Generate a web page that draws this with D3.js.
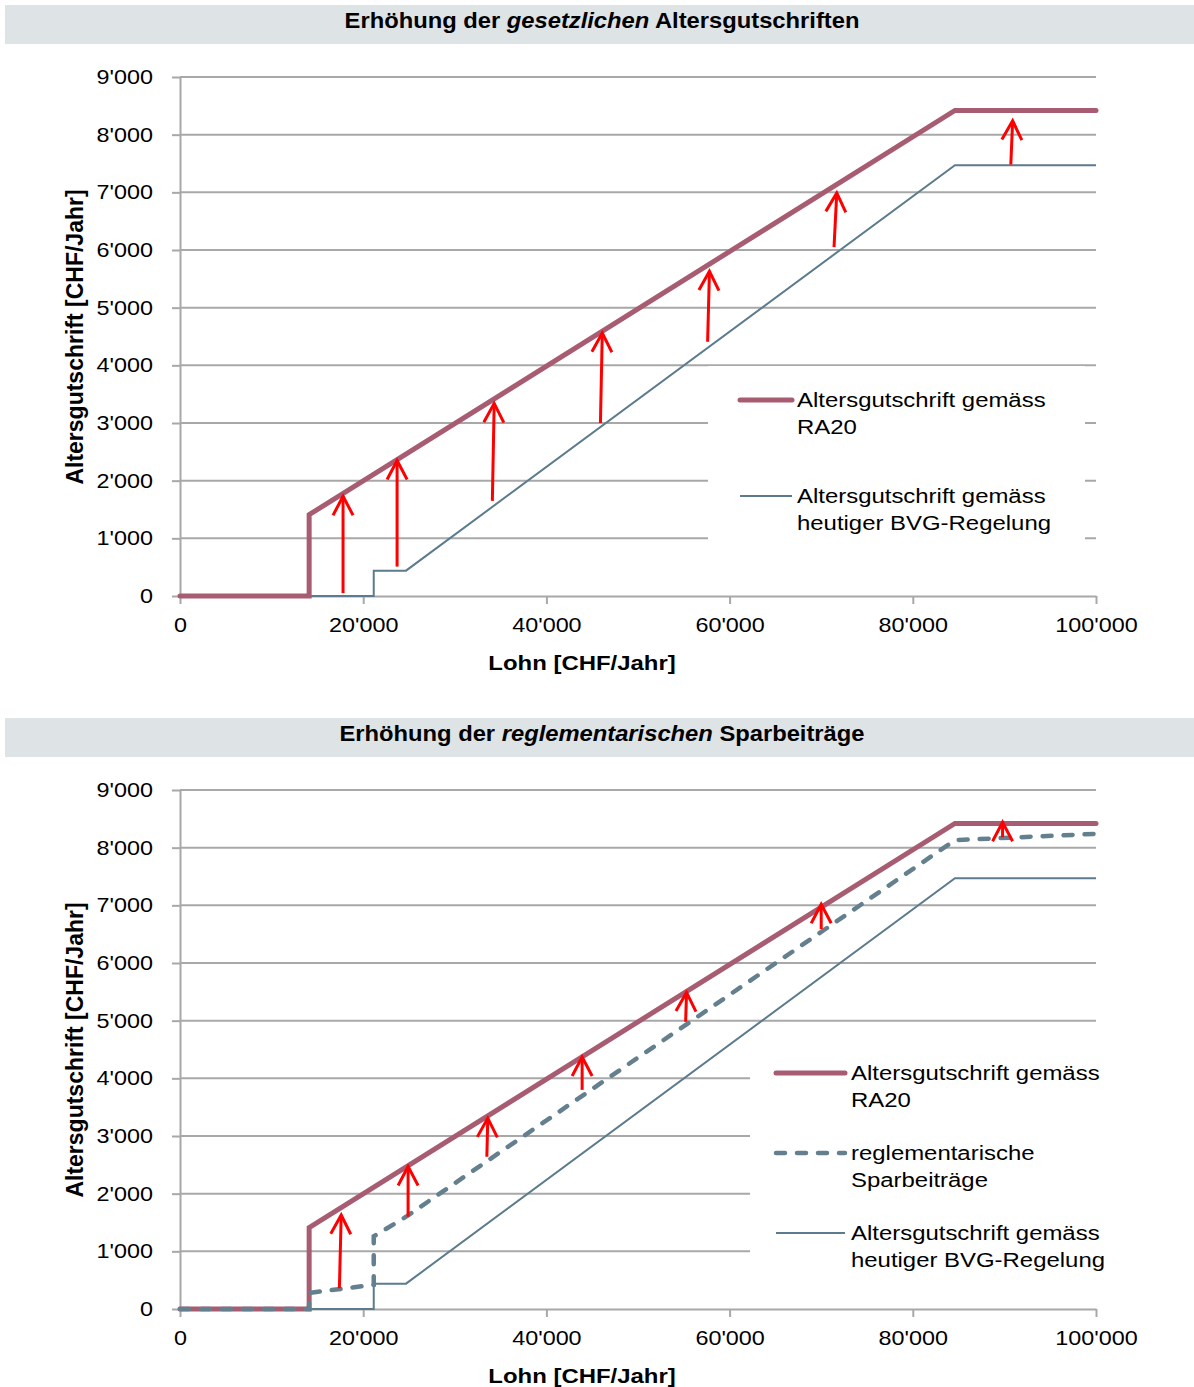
<!DOCTYPE html>
<html>
<head>
<meta charset="utf-8">
<script src="https://cdn.jsdelivr.net/npm/d3@7"></script>
<style>
  body { margin: 0; background: #fff; }
  svg { display: block; }
  text { font-family: "Liberation Sans", Arial, sans-serif; fill: #000; }
</style>
</head>
<body>
<div id="chart"></div>
<script>
// ---- data ----
const xTicks = [0, 20000, 40000, 60000, 80000, 100000];
const yTicks = [0, 1000, 2000, 3000, 4000, 5000, 6000, 7000, 8000, 9000];

// [Lohn, Altersgutschrift]
const ra20 = [[0, 0], [14100, 0], [14100, 1410], [84600, 8420], [100000, 8420]];
const bvgHeute = [[0, 0], [21150, 0], [21150, 440], [24675, 440], [84600, 7470], [100000, 7470]];
const reglementarisch = [[0, 0], [14100, 0], [14100, 280], [21150, 420], [21150, 1260], [24675, 1600], [84600, 8130], [100000, 8240]];

// [Lohn from, value from, Lohn to, value to]
const arrowsGesetzlich = [
  [17800, 50, 17800, 1730],
  [23700, 510, 23700, 2350],
  [34100, 1650, 34300, 3340],
  [45900, 3000, 46100, 4560],
  [57600, 4410, 57800, 5630],
  [71400, 6050, 71700, 6990],
  [90700, 7480, 90900, 8240]
];
const arrowsReglementarisch = [
  [17400, 360, 17600, 1630],
  [24900, 1600, 24900, 2470],
  [33500, 2640, 33600, 3310],
  [43900, 3800, 43900, 4370],
  [55200, 4980, 55300, 5490],
  [70000, 6590, 70000, 7020],
  [89800, 8180, 89800, 8440]
];

const titleGesetzlich = ["Erhöhung der ", "gesetzlichen", " Altersgutschriften"];
const titleReglementarisch = ["Erhöhung der ", "reglementarischen", " Sparbeiträge"];
const labelRA20 = ["Altersgutschrift gemäss", "RA20"];
const labelRegl = ["reglementarische", "Sparbeiträge"];
const labelBVG = ["Altersgutschrift gemäss", "heutiger BVG-Regelung"];
const xTitle = "Lohn [CHF/Jahr]";
const yTitle = "Altersgutschrift [CHF/Jahr]";

// ---- setup ----
const W = 1194, H = 1387;
const SX = 1.14; // text in the reference is slightly stretched horizontally
const colRA20 = "#a85c72";
const colBVG = "#5c7c8d";
const gridCol = "#a8a8a8";

const fmt = d3.formatLocale({decimal: ".", thousands: "'", grouping: [3], currency: ["", ""]}).format(",");

const svg = d3.select("#chart").append("svg")
  .attr("width", W).attr("height", H)
  .attr("viewBox", `0 0 ${W} ${H}`);

const x = d3.scaleLinear().domain([0, 100000]).range([180, 1096]);
const y = d3.scaleLinear().domain([0, 9000]).range([596, 77]);
const line = d3.line().x(d => x(d[0])).y(d => y(d[1]));

const styles = {
  ra20: {stroke: colRA20, width: 5, dash: null, cap: "round"},
  regl: {stroke: "#64808f", width: 4.5, dash: "9 12", cap: "round"},
  bvg: {stroke: colBVG, width: 2, dash: null, cap: "butt"}
};

function drawPanel(offset, title, series, arrows, legend) {
  const g = svg.append("g").attr("transform", `translate(0,${offset})`);

  // title bar
  g.append("rect").attr("x", 5).attr("y", 5).attr("width", 1189).attr("height", 39)
    .attr("fill", "#dee3e6");
  const t = g.append("text")
    .attr("transform", `translate(602,28) scale(1.08,1)`)
    .attr("text-anchor", "middle")
    .attr("font-size", 22).attr("font-weight", "bold");
  title.forEach((s, i) => t.append("tspan").text(s).attr("font-style", i === 1 ? "italic" : null));

  // gridlines
  g.append("g").selectAll("line")
    .data(yTicks.filter(v => v > 0))
    .join("line")
      .attr("x1", x(0)).attr("x2", x(100000))
      .attr("y1", d => y(d)).attr("y2", d => y(d))
      .attr("stroke", gridCol).attr("stroke-width", 2);

  // axes
  const ya = g.append("g").attr("transform", `translate(${x(0)},0)`)
    .call(d3.axisLeft(y).tickValues(yTicks).tickSize(8).tickSizeOuter(0).tickPadding(19).tickFormat(fmt));
  const xa = g.append("g").attr("transform", `translate(0,${y(0)})`)
    .call(d3.axisBottom(x).tickValues(xTicks).tickSize(8).tickSizeOuter(0).tickPadding(13).tickFormat(fmt));
  [ya, xa].forEach(a => {
    a.select(".domain").attr("stroke", gridCol).attr("stroke-width", 2);
    a.selectAll(".tick line").attr("stroke", gridCol).attr("stroke-width", 2);
    a.selectAll(".tick text").attr("font-size", 20.5).attr("font-family", null).attr("fill", "#000");
  });
  ya.selectAll(".tick text").attr("x", -27 / SX).attr("transform", `scale(${SX},1)`);
  xa.selectAll(".tick text").attr("transform", `scale(${SX},1)`);

  // axis titles
  g.append("text")
    .attr("transform", `translate(582,670) scale(${SX},1)`)
    .attr("text-anchor", "middle").attr("font-size", 21).attr("font-weight", "bold")
    .text(xTitle);
  g.append("text")
    .attr("transform", `translate(83,337) rotate(-90)`)
    .attr("text-anchor", "middle").attr("font-size", 23).attr("font-weight", "bold")
    .text(yTitle);

  // legend background
  g.append("rect")
    .attr("x", legend.box[0]).attr("y", legend.box[1])
    .attr("width", legend.box[2]).attr("height", legend.box[3])
    .attr("fill", "#fff");

  // series
  g.append("g").attr("fill", "none").selectAll("path")
    .data(series)
    .join("path")
      .attr("d", d => line(d.values))
      .attr("stroke", d => styles[d.style].stroke)
      .attr("stroke-width", d => styles[d.style].width)
      .attr("stroke-dasharray", d => styles[d.style].dash)
      .attr("stroke-linecap", d => styles[d.style].cap)
      .attr("stroke-linejoin", "miter");

  // arrows
  const ag = g.append("g").attr("fill", "none").attr("stroke", "#ff0000").attr("stroke-width", 3);
  arrows.forEach(a => {
    const x0 = x(a[0]), y0 = y(a[1]), x1 = x(a[2]), y1 = y(a[3]);
    const len = Math.hypot(x1 - x0, y1 - y0);
    const ux = (x1 - x0) / len, uy = (y1 - y0) / len;
    const nx = -uy, ny = ux;
    ag.append("line").attr("x1", x0).attr("y1", y0).attr("x2", x1).attr("y2", y1);
    ag.append("path").attr("d",
      `M${x1 - 19 * ux + 10 * nx},${y1 - 19 * uy + 10 * ny}L${x1},${y1}L${x1 - 19 * ux - 10 * nx},${y1 - 19 * uy - 10 * ny}`);
  });

  // legend
  const lg = g.append("g");
  legend.rows.forEach((r, i) => {
    const st = styles[r.style];
    const ry = legend.rowY[i];
    lg.append("line")
      .attr("x1", legend.lineX[0]).attr("x2", legend.lineX[1])
      .attr("y1", ry).attr("y2", ry)
      .attr("stroke", st.stroke).attr("stroke-width", st.width)
      .attr("stroke-dasharray", st.dash).attr("stroke-linecap", st.cap);
    r.label.forEach((s, j) => {
      lg.append("text")
        .attr("transform", `translate(${legend.textX},${ry + 7 + j * 27}) scale(${SX},1)`)
        .attr("font-size", 21)
        .text(s);
    });
  });
}

drawPanel(0, titleGesetzlich,
  [{values: bvgHeute, style: "bvg"}, {values: ra20, style: "ra20"}],
  arrowsGesetzlich,
  {box: [708, 366, 377, 189], lineX: [740, 792], textX: 797, rowY: [400, 496],
   rows: [{label: labelRA20, style: "ra20"}, {label: labelBVG, style: "bvg"}]});

drawPanel(713, titleReglementarisch,
  [{values: bvgHeute, style: "bvg"}, {values: ra20, style: "ra20"}, {values: reglementarisch, style: "regl"}],
  arrowsReglementarisch,
  {box: [750, 349, 444, 223], lineX: [776, 845], textX: 851, rowY: [360, 440, 520],
   rows: [{label: labelRA20, style: "ra20"}, {label: labelRegl, style: "regl"}, {label: labelBVG, style: "bvg"}]});
</script>
</body>
</html>
